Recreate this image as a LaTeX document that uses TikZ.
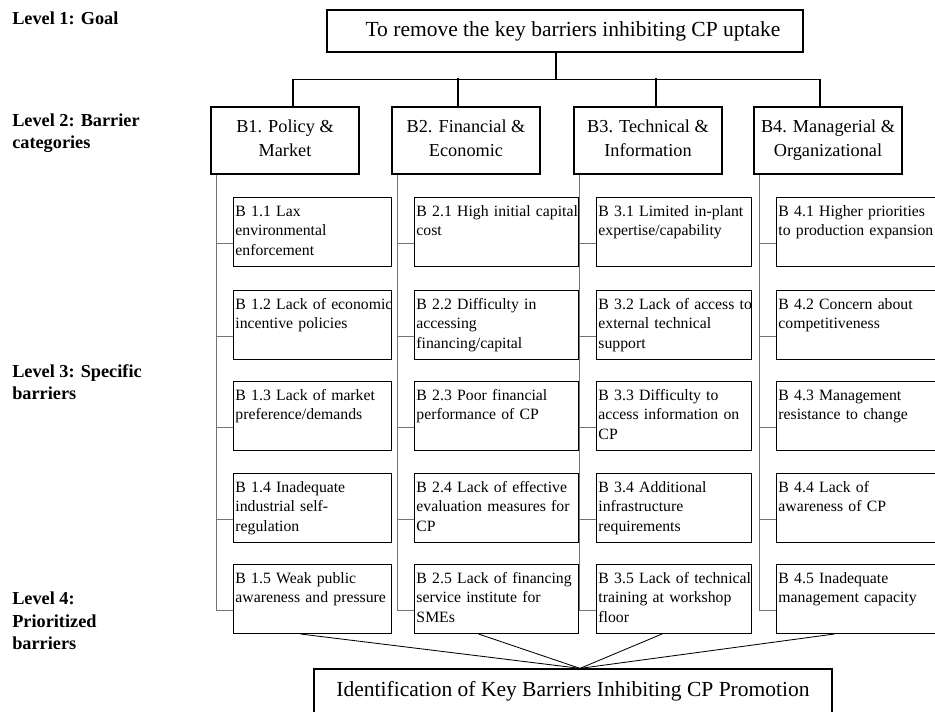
\documentclass[tikz,border=0pt]{standalone}
\usepackage{fontspec}
\setmainfont{Liberation Serif}
\hyphenpenalty=10000
\exhyphenpenalty=10000

\begin{document}
\begin{tikzpicture}[
		goalbox/.style = {draw, line width=0.9pt, minimum width=119mm, minimum height=10.5mm, inner sep=0mm, font=\fontsize{15.3}{18}\selectfont},
		catbox/.style = {draw, line width=0.9pt, minimum width=37mm, minimum height=16.75mm, inner sep=0mm, align=center, text height=26.5pt, text depth=3.5pt, font=\fontsize{13}{17}\selectfont},
		barrierbox/.style = {draw, line width=0.7pt, anchor=north west, align=left, inner xsep=0.5mm, inner ysep=0.8mm, text height=3.9mm, text depth=11.75mm, text width=#1, font=\fontsize{11.2}{14}\selectfont},
		levellabel/.style = {anchor=west, align=left, inner sep=0mm, font=\fontsize{13}{16}\selectfont\bfseries},
		spine/.style = {draw=black!55, line width=0.8pt},
	]
				% frame
				\useasboundingbox (0mm, 0mm) rectangle (233.75mm, -177.75mm);
				\clip (0mm, 0mm) rectangle (233.75mm, -177.75mm);
				
				% levels
				\node[levellabel] (lev1) at (3mm, -4.5mm) {Level 1: Goal};
				\node[levellabel] (lev2) at (3mm, -33.3mm) {Level 2: Barrier\\categories};
				\node[levellabel] (lev3) at (3mm, -95.6mm) {Level 3: Specific\\barriers};
				\node[levellabel] (lev4) at (3mm, -155.25mm) {Level 4:\\Prioritized\\barriers};
				
				% goal and categories
				\node[goalbox] (goal) at (141.25mm, -7.75mm) {\hspace{4mm}To remove the key barriers inhibiting CP uptake};
				\node[catbox] (b1) at (71.25mm, -35.125mm) {B1. Policy \&\\Market};
				\node[catbox] (b2) at (116.5mm, -35.125mm) {B2. Financial \&\\Economic};
				\node[catbox] (b3) at (162mm, -35.125mm) {B3. Technical \&\\Information};
				\node[catbox] (b4) at (207mm, -35.125mm) {B4. Managerial \&\\Organizational};
				
				% specific barriers
				\node[barrierbox=38.5mm] (b11) at (58.25mm, -49.25mm) {B~1.1~Lax\\environmental\\enforcement};
				\node[barrierbox=38.5mm] (b12) at (58.25mm, -72.5mm) {B~1.2~Lack~of~economic\\incentive~policies};
				\node[barrierbox=38.5mm] (b13) at (58.25mm, -95.25mm) {B~1.3~Lack~of~market\\preference/demands};
				\node[barrierbox=38.5mm] (b14) at (58.25mm, -118.25mm) {B~1.4~Inadequate\\industrial~self-\\regulation};
				\node[barrierbox=38.5mm] (b15) at (58.25mm, -141mm) {B~1.5~Weak~public\\awareness~and~pressure};
				
				\node[barrierbox=40mm] (b21) at (103.5mm, -49.25mm) {B~2.1~High~initial~capital\\cost};
				\node[barrierbox=40mm] (b22) at (103.5mm, -72.5mm) {B~2.2~Difficulty~in\\accessing\\financing/capital};
				\node[barrierbox=40mm] (b23) at (103.5mm, -95.25mm) {B~2.3~Poor~financial\\performance~of~CP};
				\node[barrierbox=40mm] (b24) at (103.5mm, -118.25mm) {B~2.4~Lack~of~effective\\evaluation~measures~for\\CP};
				\node[barrierbox=40mm] (b25) at (103.5mm, -141mm) {B~2.5~Lack~of~financing\\service~institute~for\\SMEs};
				
				\node[barrierbox=37.75mm] (b31) at (149mm, -49.25mm) {B~3.1~Limited~\mbox{in-plant}\\expertise/capability};
				\node[barrierbox=37.75mm] (b32) at (149mm, -72.5mm) {B~3.2~Lack~of~access~to\\external~technical\\support};
				\node[barrierbox=37.75mm] (b33) at (149mm, -95.25mm) {B~3.3~Difficulty~to\\access~information~on\\CP};
				\node[barrierbox=37.75mm] (b34) at (149mm, -118.25mm) {B~3.4~Additional\\infrastructure\\requirements};
				\node[barrierbox=37.75mm] (b35) at (149mm, -141mm) {B~3.5~Lack~of~technical\\training~at~workshop\\floor};
				
				\node[barrierbox=39mm] (b41) at (194mm, -49.25mm) {B~4.1~Higher~priorities\\to~production~expansion};
				\node[barrierbox=39mm] (b42) at (194mm, -72.5mm) {B~4.2~Concern~about\\competitiveness};
				\node[barrierbox=39mm] (b43) at (194mm, -95.25mm) {B~4.3~Management\\resistance~to~change};
				\node[barrierbox=39mm] (b44) at (194mm, -118.25mm) {B~4.4~Lack~of\\awareness~of~CP};
				\node[barrierbox=39mm] (b45) at (194mm, -141mm) {B~4.5~Inadequate\\management~capacity};
				
				% prioritized barriers
				\node[goalbox, minimum width=129.5mm, minimum height=11mm] (key) at (143.25mm, -172.75mm) {Identification of Key Barriers Inhibiting CP Promotion};
				
				% tree from goal
				\draw[line width=0.8pt] ([xshift=-2.25mm]goal.south) -- ++(0mm, -6.65mm) coordinate (bus);
				\draw[line width=0.8pt] ([xshift=2mm]b1.north) |- (bus) -| ([xshift=-2mm]b4.north);
				\draw[line width=0.8pt] ([xshift=-2mm]b2.north) -- ++(0mm, 7mm);
				\draw[line width=0.8pt] ([xshift=2mm]b3.north) -- ++(0mm, 7mm);
				
				% spines
				\draw[spine] ([xshift=1.5mm]b1.south west) |- ([yshift=-2.9mm]b15.west);
				\draw[spine] ([xshift=1.5mm]b2.south west) |- ([yshift=-2.9mm]b25.west);
				\draw[spine] ([xshift=1.5mm]b3.south west) |- ([yshift=-2.9mm]b35.west);
				\draw[spine] ([xshift=1.5mm]b4.south west) |- ([yshift=-2.9mm]b45.west);
				
				% branches
				\draw[spine] ([yshift=-2.9mm]b11.west) -- ++(-4mm, 0mm);
				\draw[spine] ([yshift=-2.9mm]b12.west) -- ++(-4mm, 0mm);
				\draw[spine] ([yshift=-2.9mm]b13.west) -- ++(-4mm, 0mm);
				\draw[spine] ([yshift=-2.9mm]b14.west) -- ++(-4mm, 0mm);
				\draw[spine] ([yshift=-2.9mm]b21.west) -- ++(-4.25mm, 0mm);
				\draw[spine] ([yshift=-2.9mm]b22.west) -- ++(-4.25mm, 0mm);
				\draw[spine] ([yshift=-2.9mm]b23.west) -- ++(-4.25mm, 0mm);
				\draw[spine] ([yshift=-2.9mm]b24.west) -- ++(-4.25mm, 0mm);
				\draw[spine] ([yshift=-2.9mm]b31.west) -- ++(-4mm, 0mm);
				\draw[spine] ([yshift=-2.9mm]b32.west) -- ++(-4mm, 0mm);
				\draw[spine] ([yshift=-2.9mm]b33.west) -- ++(-4mm, 0mm);
				\draw[spine] ([yshift=-2.9mm]b34.west) -- ++(-4mm, 0mm);
				\draw[spine] ([yshift=-2.9mm]b41.west) -- ++(-4mm, 0mm);
				\draw[spine] ([yshift=-2.9mm]b42.west) -- ++(-4mm, 0mm);
				\draw[spine] ([yshift=-2.9mm]b43.west) -- ++(-4mm, 0mm);
				\draw[spine] ([yshift=-2.9mm]b44.west) -- ++(-4mm, 0mm);
				
				% convergence
				\coordinate (meet) at ([xshift=1.75mm]key.north);
				\draw[line width=0.6pt] ([xshift=-3mm]b15.south) -- (meet);
				\draw[line width=0.6pt] ([xshift=-4.5mm]b25.south) -- (meet);
				\draw[line width=0.6pt] ([xshift=-3mm]b35.south) -- (meet);
				\draw[line width=0.6pt] ([xshift=-5.5mm]b45.south) -- (meet);
				
			\end{tikzpicture}
\end{document}
